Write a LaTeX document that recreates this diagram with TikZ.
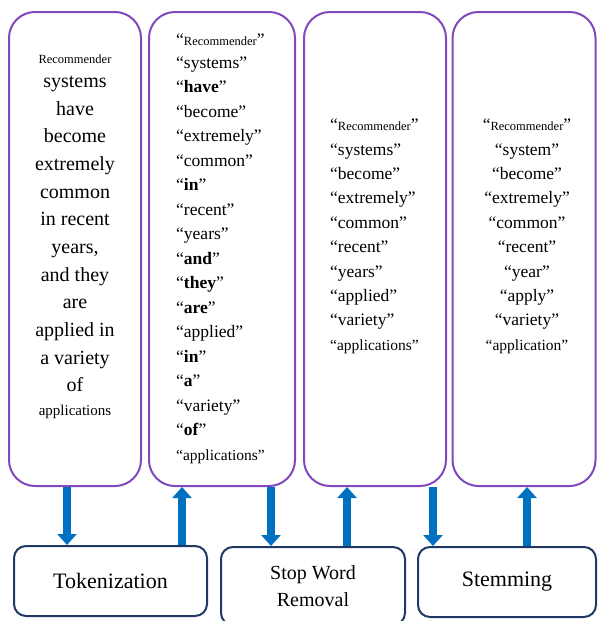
\documentclass[tikz,border=0pt]{standalone}
\usepackage{fontspec}
\setmainfont{Liberation Serif}
\usetikzlibrary{arrows.meta}
\definecolor{boxpurple}{HTML}{8048BC}
\definecolor{stepnavy}{HTML}{1F3864}
\definecolor{flowblue}{HTML}{0070C0}
\begin{document}
\begin{tikzpicture}[x=1pt,y=-1pt,
	textbox/.style={draw=boxpurple,line width=2pt,rounded corners=26pt,minimum height=474pt},
	stepbox/.style={draw=stepnavy,line width=2pt,rounded corners=12pt,minimum height=70pt,align=center,font=\fontsize{22}{26}\selectfont},
	word/.style={inner sep=0pt,font=\fontsize{17.5}{20}\selectfont},
	bigword/.style={inner sep=0pt,anchor=base,font=\fontsize{20}{24}\selectfont},
	flow/.style={draw=flowblue,line width=8pt,-{Triangle[width=19pt,length=11pt]}}]
	\useasboundingbox (0,0) rectangle (597,621);
	\node[textbox,minimum width=132pt] (b1) at (75,249) {};
	\node[textbox,minimum width=146pt] (b2) at (222,249) {};
	\node[textbox,minimum width=142pt] (b3) at (375,249) {};
	\node[textbox,minimum width=143pt] (b4) at (524,249) {};
	\node[stepbox,minimum width=193pt] (tok) at (110.5,581) {Tokenization};
	\node[stepbox,minimum width=184pt,minimum height=78pt,font=\fontsize{20}{26.5}\selectfont] (stop) at (313,586) {Stop Word\\Removal};
	\node[stepbox,minimum width=178pt] (stem) at (507,582) {Stemming};
	% original sentence
	\node[bigword,font=\fontsize{12.5}{14}\selectfont] (t1-0) at (75,63) {Recommender};
	\foreach \w [count=\i] in {systems,have,become,extremely,common,in recent,{years,},and they,are,applied in,a variety,of}
	\node[bigword] (t1-\i) at (75,{87.5+(\i-1)*27.65}) {\w};
	\node[bigword,font=\fontsize{15}{18}\selectfont] (t1-13) at (75,415) {applications};
	% tokens
	\node[word,anchor=base west] (t2-0) at (176,45) {``{\fontsize{12.5}{14}\selectfont Recommender}''};
	\foreach \w [count=\i] in {systems,\textbf{have},become,extremely,common,\textbf{in},recent,years,\textbf{and},\textbf{they},\textbf{are},applied,\textbf{in},\textbf{a},variety,\textbf{of}}
	\node[word,anchor=base west] (t2-\i) at (176,{68.3+(\i-1)*24.5}) {``\w''};
	\node[word,anchor=base west,font=\fontsize{15.5}{18}\selectfont] (t2-17) at (176,460) {``applications''};
	% stop words removed
	\node[word,anchor=base west] (t3-0) at (330,130) {``{\fontsize{12.5}{14}\selectfont Recommender}''};
	\foreach \w [count=\i] in {systems,become,extremely,common,recent,years,applied,variety}
	\node[word,anchor=base west] (t3-\i) at (330,{155+(\i-1)*24.4}) {``\w''};
	\node[word,anchor=base west,font=\fontsize{15.5}{18}\selectfont] (t3-9) at (330,350) {``applications''};
	% stems
	\node[word,anchor=base] (t4-0) at (527,130) {``{\fontsize{12.5}{14}\selectfont Recommender}''};
	\foreach \w [count=\i] in {system,become,extremely,common,recent,year,apply,variety}
	\node[word,anchor=base] (t4-\i) at (527,{155+(\i-1)*24.4}) {``\w''};
	\node[word,anchor=base,font=\fontsize{15.5}{18}\selectfont] (t4-9) at (527,350) {``application''};
	% flow
	\draw[flow] (b1.south -| 67,0) -- (tok.north -| 67,0);
	\draw[flow] (tok.north -| 182,0) -- (b2.south -| 182,0);
	\draw[flow] (b2.south -| 271,0) -- (stop.north -| 271,0);
	\draw[flow] (stop.north -| 347,0) -- (b3.south -| 347,0);
	\draw[flow] (b3.south -| 433,0) -- (stem.north -| 433,0);
	\draw[flow] (stem.north -| 527,0) -- (b4.south -| 527,0);
\end{tikzpicture}
\end{document}
